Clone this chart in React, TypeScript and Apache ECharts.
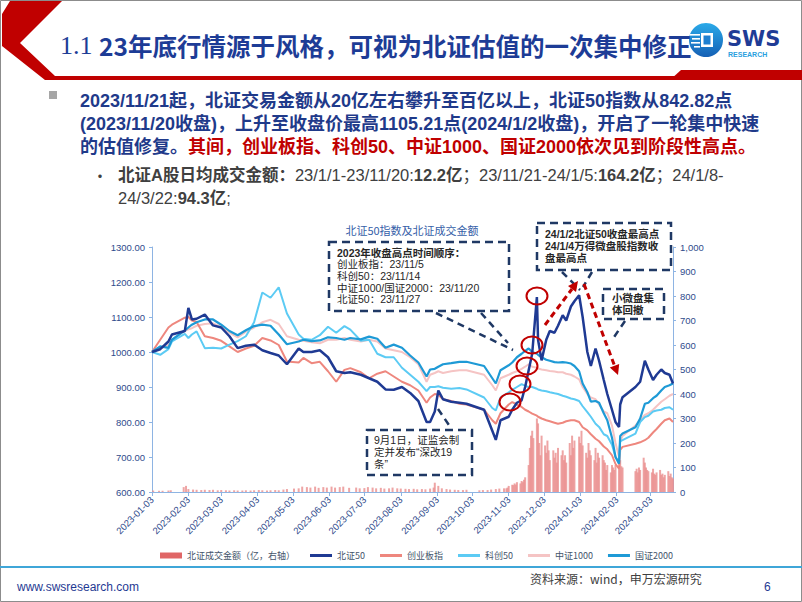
import React, { useEffect, useRef } from 'react';
import * as echarts from 'echarts';

// ---------- data ----------
const axisStart = '2023-01-03';
const axisEnd = '2024-03-22';

const lineDates = [
  '2023-01-03','2023-01-10','2023-01-17','2023-01-20','2023-01-31','2023-02-03','2023-02-06','2023-02-10','2023-02-17','2023-02-24',
  '2023-03-03','2023-03-10','2023-03-17','2023-03-24','2023-03-31','2023-04-07','2023-04-14','2023-04-21','2023-04-28','2023-05-08',
  '2023-05-12','2023-05-19','2023-05-26','2023-06-02','2023-06-09','2023-06-16','2023-06-21','2023-06-30','2023-07-07','2023-07-14',
  '2023-07-21','2023-07-28','2023-08-04','2023-08-11','2023-08-18','2023-08-25','2023-08-28','2023-09-01','2023-09-04','2023-09-08',
  '2023-09-15','2023-09-22','2023-09-28','2023-10-13','2023-10-20','2023-10-23','2023-10-27','2023-11-03','2023-11-06','2023-11-10',
  '2023-11-14','2023-11-17','2023-11-20','2023-11-23','2023-11-27','2023-11-28','2023-12-01','2023-12-05','2023-12-08','2023-12-12',
  '2023-12-15','2023-12-19','2023-12-22','2023-12-26','2023-12-29','2024-01-02','2024-01-05','2024-01-09','2024-01-12','2024-01-16',
  '2024-01-19','2024-01-23','2024-01-26','2024-01-30','2024-02-02','2024-02-05','2024-02-06','2024-02-08','2024-02-19','2024-02-23',
  '2024-02-27','2024-03-01','2024-03-05','2024-03-08','2024-03-12','2024-03-15','2024-03-19','2024-03-22'
];

const bz50 = [
  1000,1008,1030,1050,1060,1126,1093,1095,1107,1076,
  1070,1045,1011,1018,1021,1005,997,990,965,1010,
  1000,1000,1005,985,945,940,942,935,925,915,
  893,892,900,883,860,800,800,830,890,865,
  858,855,852,835,775,749,805,815,835,855,
  862,900,948,995,1157,1035,976,1035,1060,1055,
  1075,1105,1090,1130,1145,1162,1100,1000,960,1010,
  975,920,880,835,800,786,850,871,900,915,
  975,950,920,935,950,940,935,910
];

const cybz = [
  1000,1035,1070,1078,1098,1100,1090,1086,1045,1040,
  1032,1016,1000,1010,1018,1040,1033,1020,973,970,
  983,968,972,945,915,949,954,942,925,938,
  945,930,915,905,890,855,870,880,878,865,
  860,852,850,835,805,795,825,850,857,850,
  843,835,830,824,818,815,810,805,802,798,
  795,798,802,805,805,800,785,776,765,752,
  745,730,722,705,680,667,720,729,738,742,
  748,755,770,780,795,805,810,800
];

const kc50 = [
  1000,992,1008,1030,1052,1040,1050,1059,1011,1012,
  1010,1021,1031,1045,1085,1170,1155,1185,1110,1050,
  1038,1035,1048,1072,1055,1074,1064,1032,1035,995,
  985,985,955,935,915,888,900,900,902,898,
  895,897,893,870,840,833,870,885,892,900,
  908,903,900,900,895,893,890,888,885,882,
  880,875,872,867,865,860,845,828,815,795,
  786,765,760,735,700,686,745,748,767,800,
  814,818,830,833,835,840,842,835
];

const zz1000 = [
  1000,1010,1020,1035,1060,1065,1068,1075,1080,1082,
  1072,1055,1042,1058,1070,1085,1092,1080,1045,1035,
  1032,1028,1025,1035,1035,1040,1035,1030,1035,1030,
  1010,1005,1000,985,965,915,935,940,945,940,
  945,948,948,935,905,890,925,935,940,945,
  952,958,965,958,955,953,950,948,946,944,
  942,942,938,935,930,922,900,880,870,865,
  850,830,825,790,740,700,745,760,790,805,
  820,825,835,845,858,865,875,880
];

const gz2000 = [
  1000,1016,1012,1035,1062,1070,1078,1085,1093,1093,
  1078,1060,1048,1062,1074,1078,1075,1050,1022,1030,
  1035,1031,1033,1042,1040,1035,1040,1036,1044,1038,
  1012,1021,1012,990,970,930,950,952,958,965,
  968,972,972,960,925,910,948,962,970,985,
  995,1003,1010,1000,995,992,985,978,975,971,
  970,971,970,967,960,945,910,885,858,860,
  855,825,805,755,700,681,760,767,785,810,
  852,855,868,875,890,900,905,910
];

const volDates = [
  '2023-01-04','2023-01-09','2023-01-12','2023-01-17','2023-01-19','2023-01-30','2023-02-01','2023-02-03','2023-02-07','2023-02-10',
  '2023-02-14','2023-02-17','2023-02-21','2023-02-24','2023-02-28','2023-03-03','2023-03-07','2023-03-10','2023-03-14','2023-03-17',
  '2023-03-21','2023-03-24','2023-03-28','2023-03-31','2023-04-04','2023-04-07','2023-04-11','2023-04-14','2023-04-18','2023-04-21',
  '2023-04-25','2023-04-28','2023-05-04','2023-05-08','2023-05-11','2023-05-15','2023-05-18','2023-05-22','2023-05-25','2023-05-29',
  '2023-06-01','2023-06-05','2023-06-08','2023-06-12','2023-06-15','2023-06-20','2023-06-26','2023-06-29','2023-07-03','2023-07-06',
  '2023-07-10','2023-07-13','2023-07-17','2023-07-20','2023-07-24','2023-07-27','2023-07-31','2023-08-03','2023-08-07','2023-08-10',
  '2023-08-14','2023-08-17','2023-08-21','2023-08-24','2023-08-28','2023-08-31','2023-09-01','2023-09-04','2023-09-07','2023-09-11',
  '2023-09-14','2023-09-18','2023-09-21','2023-09-25','2023-09-28','2023-10-09','2023-10-12','2023-10-16','2023-10-19','2023-10-23',
  '2023-10-26','2023-10-30',
  '2023-11-01','2023-11-02','2023-11-03','2023-11-06','2023-11-07','2023-11-08','2023-11-09','2023-11-10','2023-11-13','2023-11-14',
  '2023-11-15','2023-11-16','2023-11-17','2023-11-20','2023-11-21','2023-11-22','2023-11-23','2023-11-24','2023-11-27','2023-11-28',
  '2023-11-29','2023-11-30','2023-12-01','2023-12-04','2023-12-05','2023-12-06','2023-12-07','2023-12-08','2023-12-11','2023-12-12',
  '2023-12-13','2023-12-14','2023-12-15','2023-12-18','2023-12-19','2023-12-20','2023-12-21','2023-12-22','2023-12-25','2023-12-26',
  '2023-12-27','2023-12-28','2023-12-29','2024-01-02','2024-01-03','2024-01-04','2024-01-05','2024-01-08','2024-01-09','2024-01-10',
  '2024-01-11','2024-01-12','2024-01-15','2024-01-16','2024-01-17','2024-01-18','2024-01-19','2024-01-22','2024-01-23','2024-01-24',
  '2024-01-25','2024-01-26','2024-01-29','2024-01-30','2024-01-31','2024-02-01','2024-02-02','2024-02-05','2024-02-06','2024-02-07',
  '2024-02-08','2024-02-19','2024-02-20','2024-02-21','2024-02-22','2024-02-23','2024-02-26','2024-02-27','2024-02-28','2024-02-29',
  '2024-03-01','2024-03-04','2024-03-05','2024-03-06','2024-03-07','2024-03-08','2024-03-11','2024-03-12','2024-03-13','2024-03-14',
  '2024-03-15','2024-03-18','2024-03-19','2024-03-20','2024-03-21','2024-03-22'
];

const volValues = [
  6,5,5,6,7,20,25,12,10,9,
  8,9,8,9,7,8,7,6,7,6,
  6,7,6,7,8,7,6,7,8,7,
  10,12,14,15,22,20,18,22,17,20,
  18,22,18,20,22,17,18,15,16,20,
  18,15,17,14,15,18,15,14,13,12,
  13,11,12,11,14,18,38,25,15,12,
  10,9,8,8,9,7,8,8,10,12,
  14,15,
  15,18,25,30,28,35,30,40,35,45,
  40,50,60,110,180,230,250,220,300,280,
  200,150,230,190,160,210,170,130,170,140,
  160,120,180,150,170,130,150,120,200,150,
  230,180,210,226,200,250,190,160,140,200,
  170,150,130,180,120,160,140,150,130,120,
  90,110,80,110,100,90,110,100,130,105,
  100,85,95,80,100,90,140,120,100,90,
  85,80,95,75,70,80,90,70,75,60,
  70,85,65,75,60,55
];

const leftTicks = { min: 600, max: 1300, interval: 100 };
const rightTicks = { min: 0, max: 1000, interval: 100 };

// ---------- helpers ----------
const CJK = "'Noto Sans CJK SC', 'Noto Sans', sans-serif";
const ARIAL = "'Liberation Sans', 'Noto Sans CJK SC', sans-serif";

function buildDays(start: string, end: string): string[] {
  const out: string[] = [];
  const d = new Date(start + 'T00:00:00Z');
  const e = new Date(end + 'T00:00:00Z');
  while (d.getTime() <= e.getTime()) {
    out.push(d.toISOString().slice(0, 10));
    d.setUTCDate(d.getUTCDate() + 1);
  }
  return out;
}

const pairs = (dates: string[], vals: number[]) => dates.map((d, i) => [d, vals[i]]);

const text = (x: number, y: number, t: string, st: any = {}) => ({
  type: 'text', x, y, z: 100, silent: true,
  style: {
    text: t, fontFamily: CJK, fontSize: 11, fill: '#262626',
    align: 'left', verticalAlign: 'middle', textAlign: 'left', textVerticalAlign: 'middle',
    ...st,
  },
});

// multi-line annotation text in one element (top-anchored)
const block = (x: number, y: number, t: string, lh: number, fs: number, bold: boolean) => ({
  type: 'text', x, y, z: 100, silent: true,
  style: {
    text: t, fontFamily: ARIAL, fontSize: fs, fontWeight: bold ? 'bold' : 'normal',
    fill: '#262626', lineHeight: lh,
    align: 'left', verticalAlign: 'top', textAlign: 'left', textVerticalAlign: 'top',
    rich: {
      b: { fontFamily: ARIAL, fontSize: fs, fontWeight: 'bold', fill: '#262626', color: '#262626', lineHeight: lh },
      n: { fontFamily: ARIAL, fontSize: fs, fontWeight: 'normal', fill: '#262626', color: '#262626', lineHeight: lh },
    },
  },
});

const dashRect = (x: number, y: number, w: number, h: number) => ({
  type: 'rect', z: 100, silent: true,
  shape: { x, y, width: w, height: h },
  style: { fill: 'none', stroke: '#1F3864', lineWidth: 2.5, lineDash: [8, 5] },
});

const dashLine = (x1: number, y1: number, x2: number, y2: number) => ({
  type: 'line', z: 100, silent: true,
  shape: { x1, y1, x2, y2 },
  style: { stroke: '#1F3864', lineWidth: 2.5, lineDash: [7, 5] },
});

const redEllipse = (cx: number, cy: number) => ({
  type: 'ellipse', z: 101, silent: true,
  shape: { cx, cy, rx: 10.5, ry: 8.5 },
  style: { fill: 'none', stroke: '#C00000', lineWidth: 2 },
});

const redArrow = (x1: number, y1: number, x2: number, y2: number) => {
  const dx = x2 - x1, dy = y2 - y1;
  const len = Math.sqrt(dx * dx + dy * dy);
  const ux = dx / len, uy = dy / len;
  const bx = x2 - ux * 10, by = y2 - uy * 10;
  const nx = -uy * 5, ny = ux * 5;
  return [
    { type: 'line', z: 101, silent: true, shape: { x1, y1, x2: bx, y2: by },
      style: { stroke: '#C00000', lineWidth: 3, lineDash: [6, 4] } },
    { type: 'polygon', z: 101, silent: true,
      shape: { points: [[x2, y2], [bx + nx, by + ny], [bx - nx, by - ny]] },
      style: { fill: '#C00000' } },
  ];
};

const lineIcon = 'path://M0,0 L22,0 L22,3 L0,3 Z';

export default function App() {
  const ref = useRef<HTMLDivElement>(null);

  useEffect(() => {
    if (!ref.current) return;
    const chart = echarts.init(ref.current, undefined, { renderer: 'svg' });
    const days = buildDays(axisStart, axisEnd);
    const isMonthTick = (_i: number, v: string) => v.slice(8) === '03';

    const lineSeries = (name: string, vals: number[], color: string, width: number) => ({
      name, type: 'line', data: pairs(lineDates, vals), yAxisIndex: 0,
      showSymbol: false, symbol: 'none',
      lineStyle: { color, width }, itemStyle: { color },
    });

    const bulletStyle = { fontFamily: ARIAL, fontSize: 18, fontWeight: 'bold', fill: '#1F3A8A' };
    const subRich = {
      k: { fontFamily: ARIAL, fontSize: 16.5, fontWeight: 'bold', fill: '#404040', color: '#404040' },
      n: { fontFamily: ARIAL, fontSize: 16.5, fill: '#404040', color: '#404040' },
    };

    const graphics: any[] = [
      // frame
      { type: 'rect', z: 0, silent: true, shape: { x: 0.5, y: 0.5, width: 801, height: 601 },
        style: { fill: 'none', stroke: '#8c8c8c', lineWidth: 1 } },
      // header red shapes
      { type: 'polygon', z: 50, silent: true,
        shape: { points: [[10, 1], [62, 1], [20, 43], [55, 76], [802, 76], [802, 80], [45, 80], [2, 46], [2, 14]] },
        style: { fill: '#C00000' } },
      { type: 'polygon', z: 50, silent: true,
        shape: { points: [[670, 80], [681, 70], [802, 70], [802, 80]] },
        style: { fill: '#C00000' } },
      // header title
      text(60, 45, '{s|1.1 }{c|23年底行情源于风格，可视为北证估值的一次集中修正}', {
        rich: {
          s: { fontFamily: "'Liberation Serif', 'DejaVu Serif', serif", fontSize: 26, fill: '#1D3C96', color: '#1D3C96' },
          c: { fontFamily: CJK, fontSize: 24.5, fontWeight: 'bold', fill: '#1D3C96', color: '#1D3C96' },
        },
      }),
      // logo
      { type: 'circle', z: 60, silent: true, shape: { cx: 706, cy: 40, r: 17 },
        style: { fill: new echarts.graphic.LinearGradient(0, 0, 0, 1, [
          { offset: 0, color: '#2BAAE9' }, { offset: 1, color: '#1560B5' }]) } },
      { type: 'rect', z: 61, silent: true, shape: { x: 701, y: 33, width: 12, height: 14 }, style: { fill: '#ffffff' } },
      { type: 'rect', z: 62, silent: true, shape: { x: 703.5, y: 35.5, width: 7, height: 9 }, style: { fill: '#1E7FD0' } },
      { type: 'rect', z: 61, silent: true, shape: { x: 690, y: 34, width: 10, height: 1.6 }, style: { fill: '#ffffff' } },
      { type: 'rect', z: 61, silent: true, shape: { x: 692, y: 38, width: 8, height: 1.6 }, style: { fill: '#ffffff' } },
      { type: 'rect', z: 61, silent: true, shape: { x: 691, y: 42, width: 9, height: 1.6 }, style: { fill: '#ffffff' } },
      { type: 'rect', z: 61, silent: true, shape: { x: 694, y: 46, width: 6, height: 1.6 }, style: { fill: '#ffffff' } },
      text(727, 39, 'SWS', { fontFamily: "'DejaVu Sans', sans-serif", fontWeight: 'bold', fontSize: 21, fill: '#1F3C96' }),
      text(728, 54, 'RESEARCH', { fontFamily: "'Liberation Sans', sans-serif", fontWeight: 'bold', fontSize: 7, fill: '#2A9FDE' }),
      // bullets
      { type: 'rect', z: 60, silent: true, shape: { x: 49, y: 91, width: 8, height: 8 }, style: { fill: '#A6A6A6' } },
      text(80, 101, '2023/11/21起，北证交易金额从20亿左右攀升至百亿以上，北证50指数从842.82点', bulletStyle),
      text(80, 124, '(2023/11/20收盘)，上升至收盘价最高1105.21点(2024/1/2收盘)，开启了一轮集中快速', bulletStyle),
      text(80, 147, '{b|的估值修复。}{r|其间，创业板指、科创50、中证1000、国证2000依次见到阶段性高点。}', {
        rich: {
          b: { fontFamily: ARIAL, fontSize: 18, fontWeight: 'bold', fill: '#1F3A8A', color: '#1F3A8A' },
          r: { fontFamily: ARIAL, fontSize: 18, fontWeight: 'bold', fill: '#C00000', color: '#C00000' },
        },
      }),
      text(92, 175, '•', { fontSize: 16, fill: '#404040' }),
      text(118, 175, '{k|北证A股日均成交金额：}{n|23/1/1-23/11/20:}{k|12.2亿}{n|；23/11/21-24/1/5:}{k|164.2亿}{n|；24/1/8-}', {
        rich: subRich,
      }),
      text(118, 198, '{n|24/3/22:}{k|94.3亿}{n|;}', { rich: subRich }),
      // annotation box A
      dashRect(329, 242, 180, 69),
      block(337, 247,
        '{b|2023年收盘高点时间顺序：}\n{n|创业板指：23/11/5}\n{n|科创50：23/11/14}\n{n|中证1000/国证2000：23/11/20}\n{n|北证50：23/11/27}',
        11.6, 10.5, false),
      dashLine(436, 313, 513, 350),
      dashLine(481, 313, 508, 343),
      // box B
      dashRect(537, 223, 134, 47),
      block(545, 228, '24/1/2北证50收盘最高点\n24/1/4万得微盘股指数收\n盘最高点', 12, 10.5, true),
      dashLine(562, 272, 580, 290),
      dashLine(592, 272, 583, 287),
      // box C
      dashRect(603, 289, 61, 30),
      block(612, 292, '小微盘集\n体回撤', 12, 10.5, true),
      dashLine(625, 321, 612, 340),
      // box D
      dashRect(367, 430, 105, 45),
      block(374, 434, '9月1日，证监会制\n定并发布“深改19\n条”', 12, 10.5, false),
      dashLine(438, 409, 451, 428),
      // red circles
      redEllipse(537, 296),
      redEllipse(532, 345),
      redEllipse(527, 366),
      redEllipse(520, 384),
      redEllipse(510, 402),
      ...redArrow(545, 325, 578, 281),
      ...redArrow(584, 284, 618, 375),
      // footer
      { type: 'rect', z: 50, silent: true, shape: { x: 0, y: 566, width: 802, height: 2 }, style: { fill: '#3FA6D8' } },
      text(17, 587, 'www.swsresearch.com', { fontFamily: ARIAL, fontSize: 12, fill: '#1F3A93' }),
      text(530, 578, '资料来源：wind，申万宏源研究', { fontSize: 12, fill: '#404040' }),
      text(764, 587, '6', { fontFamily: ARIAL, fontSize: 12, fill: '#1F3A93' }),
    ];

    chart.setOption({
      animation: false,
      backgroundColor: '#ffffff',
      title: {
        text: '北证50指数及北证成交金额',
        left: 407, top: 219, textAlign: 'center',
        textStyle: { fontFamily: CJK, fontSize: 11, fontWeight: 'normal', color: '#3560A8' },
      },
      grid: { left: 152, right: 129, top: 247, bottom: 110, containLabel: false },
      legend: {
        left: 155, top: 546, itemWidth: 22, itemHeight: 6, itemGap: 15, selectedMode: false,
        textStyle: { fontFamily: CJK, fontSize: 9, color: '#44546A' },
        data: [
          { name: '北证成交金额（亿，右轴）', icon: 'rect', itemStyle: { color: '#E06666', opacity: 1 } },
          { name: '北证50', icon: lineIcon },
          { name: '创业板指', icon: lineIcon },
          { name: '科创50', icon: lineIcon },
          { name: '中证1000', icon: lineIcon },
          { name: '国证2000', icon: lineIcon },
        ],
      },
      xAxis: {
        type: 'category', data: days, boundaryGap: false,
        axisLine: { lineStyle: { color: '#8EB4E3', width: 1 } },
        axisTick: { interval: isMonthTick, length: 4, lineStyle: { color: '#8EB4E3' } },
        axisLabel: { interval: isMonthTick, rotate: 45, fontFamily: ARIAL, fontSize: 9.5, color: '#2F4B8C', margin: 6 },
        splitLine: { show: false },
      },
      yAxis: [
        {
          type: 'value', ...leftTicks, position: 'left',
          axisLine: { show: true, lineStyle: { color: '#8EB4E3', width: 1 } },
          axisTick: { show: true, length: 3, lineStyle: { color: '#8EB4E3' } },
          axisLabel: { formatter: (v: number) => v.toFixed(2), fontFamily: ARIAL, fontSize: 9.5, color: '#2F4B8C', margin: 7 },
          splitLine: { show: false },
        },
        {
          type: 'value', ...rightTicks, position: 'right',
          axisLine: { show: true, lineStyle: { color: '#8EB4E3', width: 1 } },
          axisTick: { show: true, length: 3, lineStyle: { color: '#8EB4E3' } },
          axisLabel: { fontFamily: ARIAL, fontSize: 9.5, color: '#2F4B8C', margin: 7 },
          splitLine: { show: false },
        },
      ],
      series: [
        {
          name: '北证成交金额（亿，右轴）', type: 'bar', yAxisIndex: 1,
          data: pairs(volDates, volValues), barWidth: 2,
          itemStyle: { color: '#EA8F8F', opacity: 0.8 },
        },
        lineSeries('中证1000', zz1000, '#F5C4C4', 2),
        lineSeries('创业板指', cybz, '#EE877E', 2),
        lineSeries('科创50', kc50, '#5CCBF4', 2),
        lineSeries('国证2000', gz2000, '#1E9AD6', 2.2),
        lineSeries('北证50', bz50, '#1F3A93', 2.5),
      ],
      graphic: { elements: graphics },
    });

    return () => chart.dispose();
  }, []);

  return (
    <div
      ref={ref}
      style={{ position: 'absolute', left: 0, top: 0, width: 802, height: 602, background: '#fff' }}
    />
  );
}
